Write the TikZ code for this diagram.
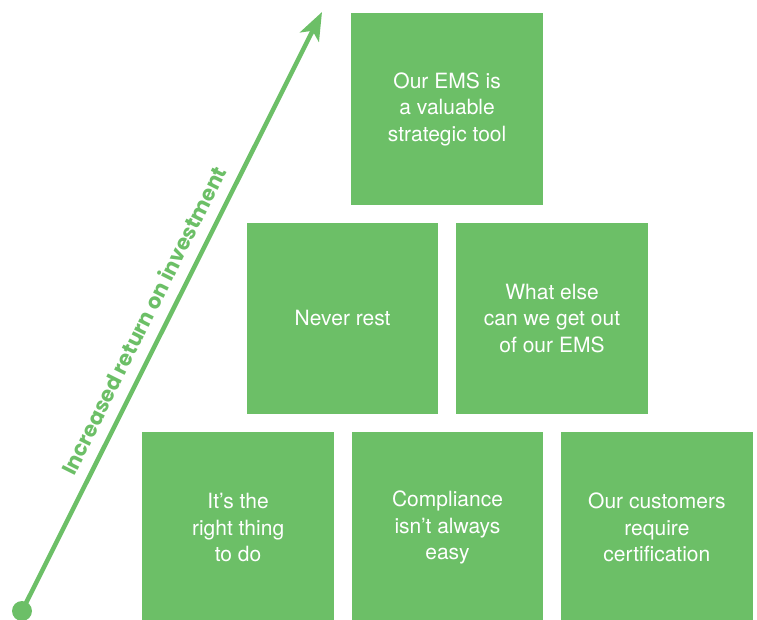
\documentclass[tikz,border=0pt]{standalone}
\usepackage{fontspec}
\setmainfont{TeX Gyre Heros}
\newfontfamily\risefont{Poppins}
\usetikzlibrary{arrows.meta,positioning}
\definecolor{emsgreen}{RGB}{108,191,103}
\begin{document}
\begin{tikzpicture}[x=1pt,y=1pt,>={Stealth[length=28pt,width=21pt,inset=7pt]},node distance=17.5pt,every node/.style={font=\fontsize{21}{26.5}\selectfont},box/.style={fill=emsgreen,text=white,align=center,minimum width=191.5pt,minimum height=191.5pt,inner sep=0pt},axis/.style={draw=emsgreen,line width=4.5pt}]
\useasboundingbox (0,0) rectangle (757,619);
\node[box] (B2) at (447.5,91.25) {Compliance\\isn't always\\easy};
\node[box,left=of B2] (B1) {It's the\\right thing\\to do};
\node[box,right=of B2] (B3) {Our customers\\require\\certification};
\node[box,above=of B1,xshift=104.5pt] (M1) {Never rest};
\node[box,above=of B2,xshift=104.5pt] (M2) {What else\\can we get out\\of our EMS};
\node[box,above=of M1,xshift=104.5pt] (T) {Our EMS is\\a valuable\\strategic tool};
\node[circle,fill=emsgreen,minimum size=20pt,inner sep=0pt] (start) at (22,8) {};
\coordinate (tip) at (322,607);
\draw[axis,->](start.center)--(tip) node[pos=.469,sloped,above=7.5pt,text=emsgreen,font=\risefont\bfseries\fontsize{21}{21}\selectfont] (rise) {Increased return on investment};
\end{tikzpicture}
\end{document}
